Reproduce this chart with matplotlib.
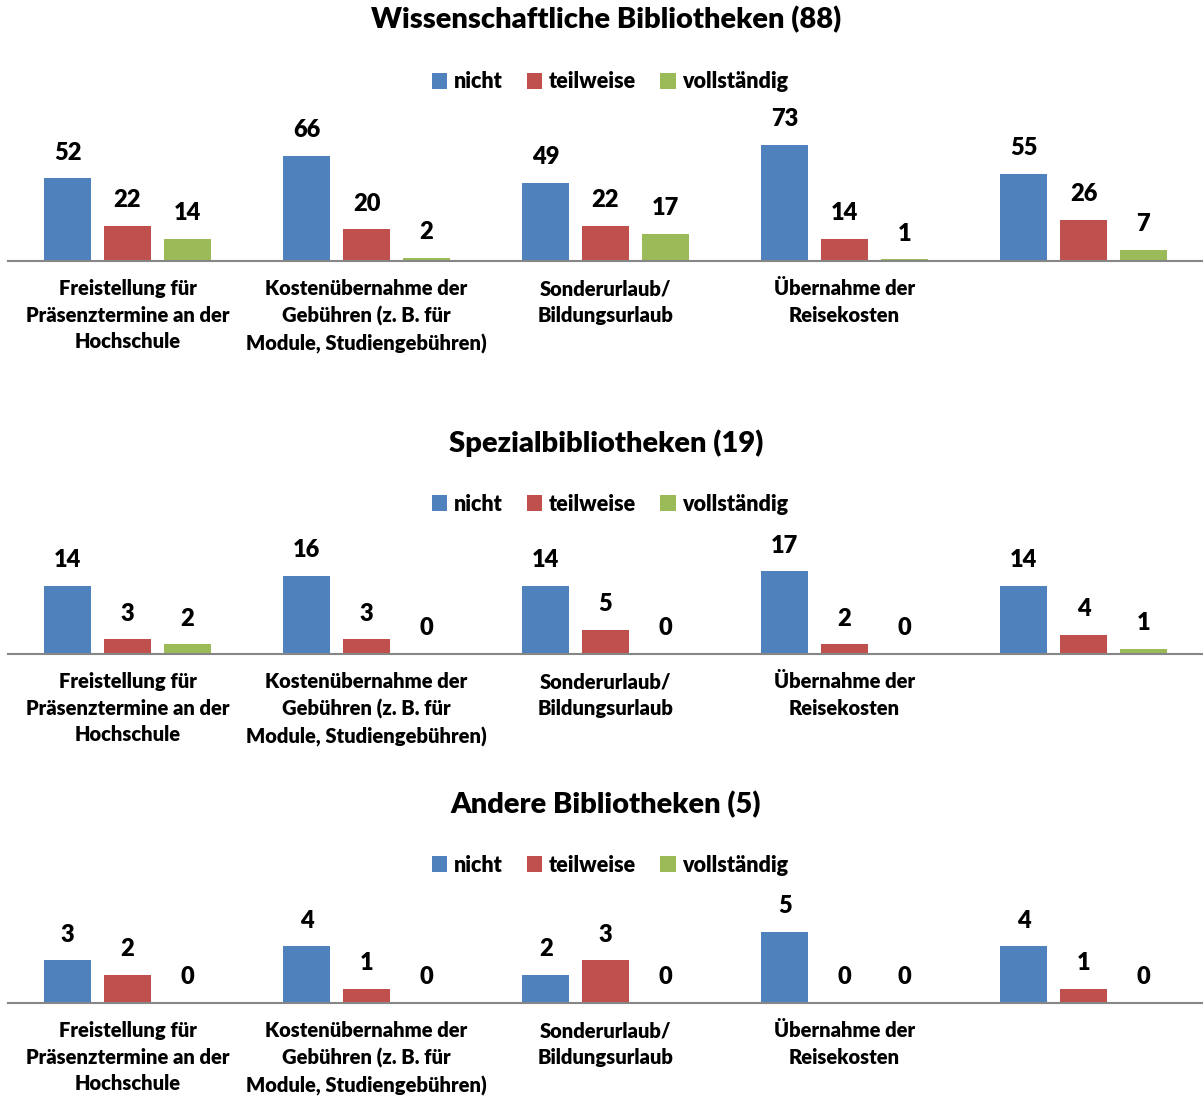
import matplotlib.pyplot as plt
from matplotlib.patches import Patch
import numpy as np

plt.rcParams['font.family'] = ['Lato', 'DejaVu Sans']
plt.rcParams['font.weight'] = 'bold'

categories = ["Freistellung für\nPräsenztermine an der\nHochschule",
              "Kostenübernahme der\nGebühren (z. B. für\nModule, Studiengebühren)",
              "Sonderurlaub/\nBildungsurlaub",
              "Übernahme der\nReisekosten",
              ""]
series = ["nicht", "teilweise", "vollständig"]
colors = ["#4F81BD", "#C0504D", "#9BBB59"]

titles = ["Wissenschaftliche Bibliotheken (88)",
          "Spezialbibliotheken (19)",
          "Andere Bibliotheken (5)"]

wiss_nicht = [52, 66, 49, 73, 55]
wiss_teil = [22, 20, 22, 14, 26]
wiss_voll = [14, 2, 17, 1, 7]

spez_nicht = [14, 16, 14, 17, 14]
spez_teil = [3, 3, 5, 2, 4]
spez_voll = [2, 0, 0, 0, 1]

andere_nicht = [3, 4, 2, 5, 4]
andere_teil = [2, 1, 3, 0, 1]
andere_voll = [0, 0, 0, 0, 0]

panels = [(wiss_nicht, wiss_teil, wiss_voll),
          (spez_nicht, spez_teil, spez_voll),
          (andere_nicht, andere_teil, andere_voll)]

W, H = 1203, 1097
fig = plt.figure(figsize=(W / 100, H / 100), dpi=100)

# pixel layout per panel: baseline y, px per unit, title y, legend y
baselines = [261, 654, 1003]
scales = [1.59, 4.87, 14.2]
title_y = [20, 443, 805]
legend_y = [82, 504, 865]
axh = 130

x = np.arange(len(categories))
for p, (data, base, sc, ty, ly) in enumerate(zip(panels, baselines, scales, title_y, legend_y)):
    ax = fig.add_axes([8 / W, (H - base) / H, 1195 / W, axh / H])
    for i, vals in enumerate(data):
        xs = x + (i - 1) * 0.25
        ax.bar(xs, vals, width=0.197, color=colors[i], edgecolor='none')
        for xx, v in zip(xs, vals):
            ax.annotate(str(v), (xx, v), xytext=(0, 18.5), textcoords='offset points',
                        ha='center', va='center', fontsize=17, fontweight='heavy')
    ax.set_xlim(-0.5, 4.5)
    ax.set_ylim(0, axh / sc)
    for s in ['top', 'left', 'right']:
        ax.spines[s].set_visible(False)
    ax.spines['bottom'].set_color('#868686')
    ax.spines['bottom'].set_linewidth(1.5)
    ax.set_yticks([])
    ax.set_xticks(x)
    ax.set_xticklabels(categories, fontsize=14.5, fontweight='heavy', linespacing=1.48)
    ax.tick_params(axis='x', length=0, pad=13)

    fig.text(606 / W, 1 - ty / H, titles[p], ha='center', va='center',
             fontsize=21, fontweight='heavy')
    handles = [Patch(facecolor=c, edgecolor='none') for c in colors]
    fig.legend(handles, series, loc='center', bbox_to_anchor=(610 / W, 1 - ly / H),
               ncol=3, frameon=False, handlelength=0.7, handleheight=0.7,
               handletextpad=0.3, columnspacing=1.15, prop={'weight': 'heavy', 'size': 15.5})

fig.savefig("out.png", dpi=100)
